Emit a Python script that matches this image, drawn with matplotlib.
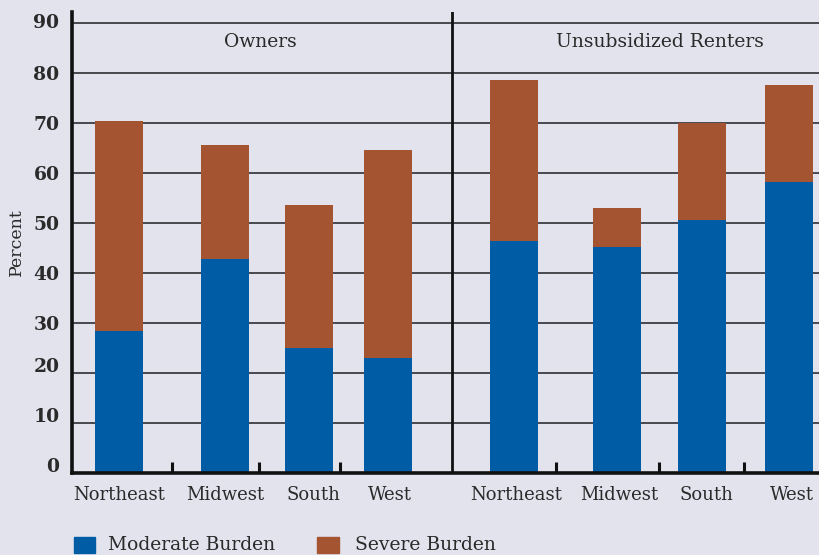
import matplotlib
matplotlib.use("Agg")
import matplotlib.pyplot as plt
from matplotlib.patches import Rectangle
from matplotlib.transforms import ScaledTranslation

# ---- data ----
groups = ["Owners", "Unsubsidized Renters"]
regions = ["Northeast", "Midwest", "South", "West"]
owners_moderate = [28.5, 42.8, 25.0, 23.0]
owners_severe_total = [70.4, 65.6, 53.6, 64.6]
renters_moderate = [46.4, 45.2, 50.6, 58.2]
renters_severe_total = [78.6, 53.0, 70.0, 77.6]
yticks = [0, 10, 20, 30, 40, 50, 60, 70, 80, 90]
series_names = ["Moderate Burden", "Severe Burden"]

# ---- layout (pixel-like x coordinates) ----
owner_pos = [119, 225, 309, 388]
renter_pos = [514, 617, 702, 789]
label_pos = [119, 225, 313, 390, 516, 619, 706, 792]
sep_ticks = [172, 259, 340, 556, 659, 744]
divider = 452
bar_w = 48

BG = "#E3E3EE"
BLUE = "#005CA5"
ORANGE = "#A55432"
TXT = "#2A2A2A"
SERIF = "DejaVu Serif"

W, H = 820, 555
fig = plt.figure(figsize=(W / 100, H / 100), dpi=100, facecolor=BG)
ax = fig.add_axes([72 / W, (H - 473) / H, (820 - 72) / W, (473 - 12) / H])
ax.set_facecolor(BG)
ax.set_xlim(72, 820)
ax.set_ylim(0, (473 - 12) / 5.0)

# gridlines
for yv in yticks[1:]:
    ax.axhline(yv, color="#1E1E24", lw=1.1, zorder=1)

def draw(pos, mod, tot):
    sev = [t - m for t, m in zip(tot, mod)]
    ax.bar(pos, mod, width=bar_w, color=BLUE, zorder=3, linewidth=0)
    ax.bar(pos, sev, bottom=mod, width=bar_w, color=ORANGE, zorder=3, linewidth=0)

draw(owner_pos, owners_moderate, owners_severe_total)
draw(renter_pos, renters_moderate, renters_severe_total)

ax.axvline(divider, color="#111111", lw=2.0, zorder=4)

for s in ["top", "right"]:
    ax.spines[s].set_visible(False)
for s in ["left", "bottom"]:
    ax.spines[s].set_linewidth(2.6)
    ax.spines[s].set_color("#111111")
    ax.spines[s].set_zorder(5)

# x ticks: separators as major, category labels as minor
ax.set_xticks(sep_ticks)
ax.set_xticklabels([])
ax.tick_params(axis="x", which="major", direction="in", length=8, width=2.2, color="#111111")
ax.set_xticks(label_pos, minor=True)
ax.set_xticklabels(regions + regions, minor=True, fontsize=13, family=SERIF, color=TXT)
ax.tick_params(axis="x", which="minor", length=0, pad=9)

ax.set_yticks(yticks)
ax.set_yticklabels([str(v) for v in yticks], fontsize=13.5, family=SERIF,
                   fontweight="bold", color=TXT)
ax.tick_params(axis="y", length=0, pad=9)
for v, lbl in zip(yticks, ax.get_yticklabels()):
    dy = 8 if v in (0, 10, 20) else (2 if v == 90 else 0)
    lbl.set_transform(lbl.get_transform() + ScaledTranslation(0, dy / 100, fig.dpi_scale_trans))

ax.set_ylabel("Percent", fontsize=12.5, family=SERIF, color=TXT, labelpad=6)

# panel titles
ax.text(260, 86.2, groups[0], ha="center", va="center", fontsize=13.5, family=SERIF, color=TXT)
ax.text(660, 86.2, groups[1], ha="center", va="center", fontsize=13.5, family=SERIF, color=TXT)

# legend (manual, at bottom)
y_leg = (H - 545) / H
fig.patches.append(Rectangle((74 / W, (H - 553) / H), 21 / W, 16 / H,
                             transform=fig.transFigure, color=BLUE, figure=fig))
fig.text(108 / W, y_leg, series_names[0], ha="left", va="center", fontsize=13.5,
         family=SERIF, color=TXT)
fig.patches.append(Rectangle((317 / W, (H - 553) / H), 22 / W, 16 / H,
                             transform=fig.transFigure, color=ORANGE, figure=fig))
fig.text(355 / W, y_leg, series_names[1], ha="left", va="center", fontsize=13.5,
         family=SERIF, color=TXT)

fig.savefig("out.png", dpi=100, facecolor=BG)
